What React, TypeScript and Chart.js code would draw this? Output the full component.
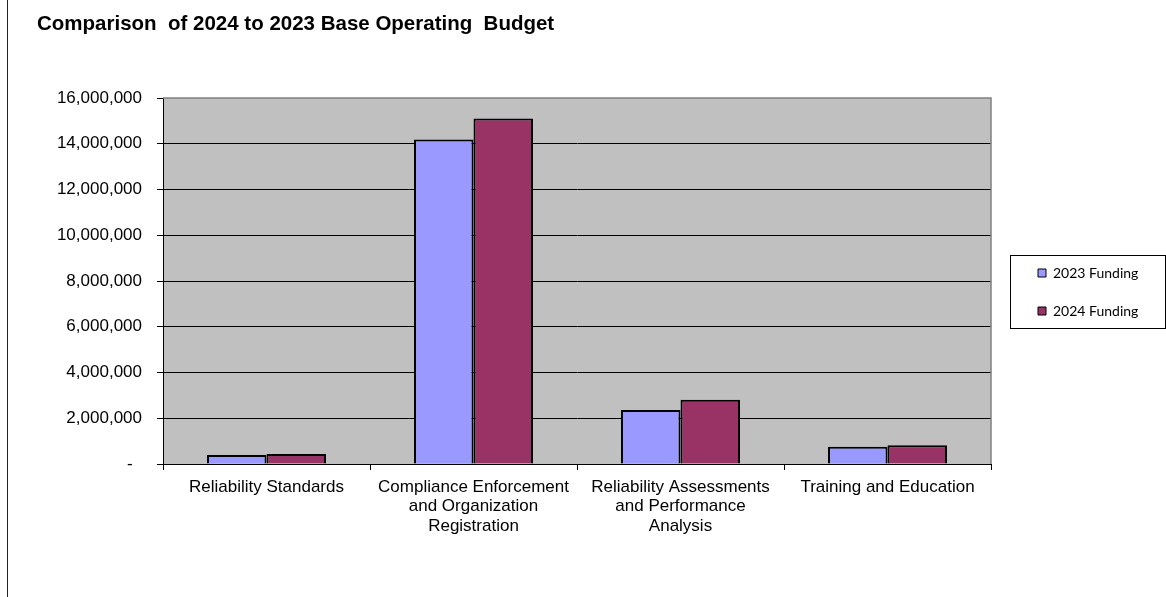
import React, { useEffect, useRef } from "react";
import { Chart, registerables } from "chart.js";

Chart.register(...registerables);

const categories: string[][] = [
  ["Reliability Standards"],
  ["Compliance Enforcement", "and Organization", "Registration"],
  ["Reliability Assessments", "and Performance", "Analysis"],
  ["Training and Education"],
];
const seriesNames = ["2023 Funding", "2024 Funding"];
const funding2023 = [390000, 14190000, 2360000, 757000];
const funding2024 = [440000, 15100000, 2810000, 817000];
const yTickMax = 16000000;
const yTickStep = 2000000;
const titleText = "Comparison  of 2024 to 2023 Base Operating  Budget";

const AXIS_FONT = "'Liberation Sans', Arial, sans-serif";

export default function App() {
  const ref = useRef<HTMLCanvasElement | null>(null);

  useEffect(() => {
    if (!ref.current) return;

    const plotBg = {
      id: "plotBg",
      beforeDraw(chart: any) {
        const { ctx, chartArea: a } = chart;
        ctx.save();
        ctx.fillStyle = "#C0C0C0";
        ctx.fillRect(a.left, a.top, a.right - a.left, a.bottom - a.top);
        ctx.restore();
      },
      beforeDatasetsDraw(chart: any) {
        const { ctx, chartArea: a } = chart;
        ctx.save();
        ctx.strokeStyle = "#808080";
        ctx.lineWidth = 1.5;
        ctx.beginPath();
        ctx.moveTo(a.left, a.top);
        ctx.lineTo(a.right, a.top);
        ctx.lineTo(a.right, a.bottom);
        ctx.stroke();
        ctx.restore();
      },
    };

    const legendPlace = {
      id: "legendPlace",
      afterLayout(chart: any) {
        const lg = chart.legend;
        if (!lg) return;
        const w = lg.width;
        lg.left = 1014;
        lg.right = 1014 + w;
        lg.top = 0;
        lg.bottom = 584;
      },
      afterDraw(chart: any) {
        const lg = chart.legend;
        if (!lg || !lg.legendHitBoxes || !lg.legendHitBoxes.length) return;
        const hb = lg.legendHitBoxes;
        const first = hb[0];
        const last = hb[hb.length - 1];
        const { ctx } = chart;
        ctx.save();
        ctx.strokeStyle = "#000";
        ctx.lineWidth = 1;
        const x0 = first.left - 28;
        const y0 = first.top - 11;
        const x1 = first.left + 127;
        const y1 = last.top + last.height + 10;
        ctx.strokeRect(Math.round(x0) + 0.5, Math.round(y0) + 0.5, Math.round(x1 - x0), Math.round(y1 - y0));
        ctx.restore();
      },
    };

    const chart = new Chart(ref.current, {
      type: "bar",
      data: {
        labels: categories,
        datasets: [
          {
            label: seriesNames[0],
            data: funding2023,
            backgroundColor: "#9999FF",
            borderColor: "#000000",
            borderWidth: 2,
          },
          {
            label: seriesNames[1],
            data: funding2024,
            backgroundColor: "#993366",
            borderColor: "#000000",
            borderWidth: 2,
          },
        ],
      },
      options: {
        animation: false,
        responsive: false,
        maintainAspectRatio: false,
        layout: { padding: { left: 37, top: 0, right: 45, bottom: 0 } },
        datasets: {
          bar: { barPercentage: 1, categoryPercentage: 0.575 },
        },
        plugins: {
          title: {
            display: true,
            text: titleText,
            align: "start",
            color: "#000",
            font: { family: AXIS_FONT, size: 20.5, weight: "bold", lineHeight: 1.2 },
            padding: { top: 12, bottom: 61.4 },
          },
          legend: {
            display: true,
            position: "right",
            maxWidth: 130,
            labels: {
              color: "#000",
              boxWidth: 8,
              boxHeight: 8,
              padding: 24,
              font: { family: "Lato, 'Open Sans', sans-serif", size: 14 },
              generateLabels: (c: any) =>
                Chart.defaults.plugins.legend.labels
                  .generateLabels(c)
                  .map((l: any) => ({ ...l, lineWidth: 1 })),
            },
          },
          tooltip: { enabled: false },
        },
        scales: {
          x: {
            offset: true,
            afterFit: (s: any) => {
              s.height = 133;
            },
            grid: {
              display: true,
              drawOnChartArea: false,
              drawTicks: true,
              tickLength: 6,
              color: "#000",
              offset: true,
            },
            border: { display: true, color: "#000", width: 1 },
            ticks: {
              color: "#000",
              maxRotation: 0,
              autoSkip: false,
              padding: 7,
              font: { family: AXIS_FONT, size: 17, lineHeight: 1.16 },
            },
          },
          y: {
            min: 0,
            max: yTickMax,
            afterFit: (s: any) => {
              s.width = 126;
            },
            grid: {
              color: (c: any) => (c.tick && c.tick.value === yTickMax ? "rgba(0,0,0,0)" : "#000"),
              tickColor: "#000",
              lineWidth: 1,
              tickLength: 6,
              drawTicks: true,
            },
            border: { display: true, color: "#000", width: 1 },
            ticks: {
              stepSize: yTickStep,
              color: "#000",
              padding: 15,
              font: { family: AXIS_FONT, size: 17 },
              callback: (v: any) => (Number(v) === 0 ? "-  " : Number(v).toLocaleString("en-US")),
            },
          },
        },
      },
      plugins: [plotBg, legendPlace],
    } as any);

    return () => chart.destroy();
  }, []);

  return (
    <div
      style={{
        position: "absolute",
        left: 0,
        top: 0,
        width: 1166,
        height: 597,
        background: "#fff",
        overflow: "hidden",
      }}
    >
      <canvas ref={ref} width={1166} height={597} style={{ display: "block", width: 1166, height: 597 }} />
      <div
        style={{
          position: "absolute",
          left: 7,
          top: 0,
          width: 1,
          height: 597,
          background: "#222",
        }}
      />
    </div>
  );
}
